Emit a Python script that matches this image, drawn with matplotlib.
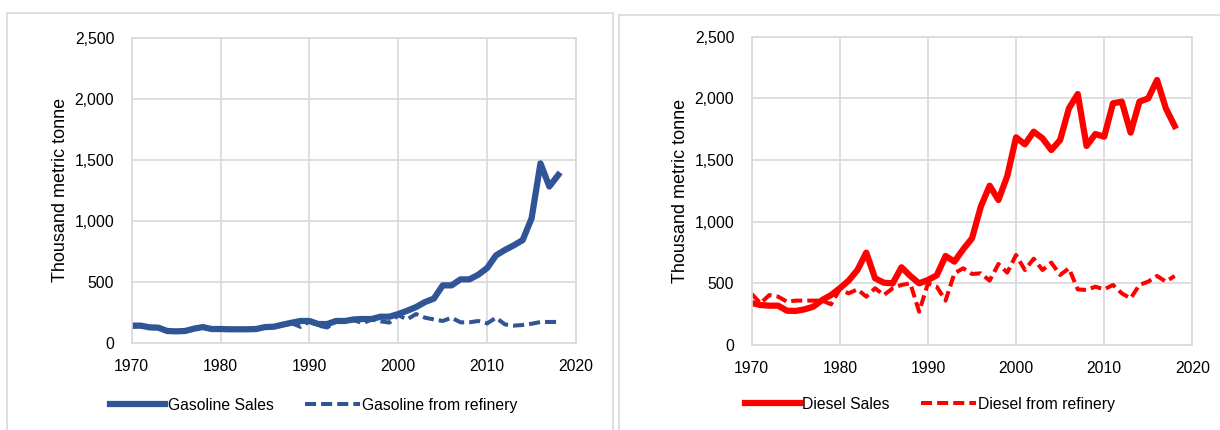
import matplotlib
matplotlib.use('Agg')
import matplotlib.pyplot as plt
from matplotlib.patches import Rectangle
import numpy as np

plt.rcParams['font.family'] = ['Liberation Sans', 'DejaVu Sans']

years_gas = list(range(1970, 2019))
gasoline_sales = [
    140, 140, 126, 123, 96, 93, 96, 115, 128, 112,
    112, 110, 110, 110, 112, 128, 131, 148, 164, 178,
    178, 153, 153, 178, 178, 191, 194, 194, 213, 213,
    235, 262, 292, 333, 361, 470, 470, 519, 519, 557,
    612, 716, 760, 798, 841, 1019, 1470, 1280, 1375,
]
gasoline_refinery = [
    132, 135, 122, 120, 93, 90, 93, 112, 125, 108,
    108, 107, 107, 107, 108, 124, 127, 144, 160, 130,
    175, 140, 125, 175, 170, 185, 160, 190, 175, 165,
    225, 191, 235, 205, 191, 178, 205, 167, 167, 178,
    158, 205, 150, 140, 145, 155, 170, 170, 170,
]

years_dsl = list(range(1970, 2019))
diesel_sales = [
    340, 324, 319, 319, 278, 276, 289, 311, 365, 405,
    460, 522, 608, 749, 541, 505, 500, 630, 560, 500,
    527, 565, 722, 676, 776, 865, 1122, 1292, 1176, 1370,
    1684, 1627, 1730, 1676, 1581, 1662, 1919, 2035, 1614, 1711,
    1689, 1960, 1973, 1722, 1973, 2000, 2149, 1919, 1776,
]
diesel_refinery = [
    414, 338, 405, 392, 351, 360, 360, 360, 360, 330,
    451, 419, 451, 392, 460, 405, 460, 487, 500, 270,
    500, 473, 360, 581, 622, 576, 581, 522, 657, 587,
    730, 608, 700, 608, 668, 568, 622, 451, 446, 473,
    451, 487, 419, 378, 487, 514, 560, 514, 560,
]

blue = '#2f5597'
red = '#ff0000'
grid_c = '#d9d9d9'

fig = plt.figure(figsize=(12.2, 4.3), dpi=100)

# panel frames
fig.patches.append(Rectangle((7 / 1220, -0.01), (613 - 7) / 1220, 1.01 - 13 / 430,
                             transform=fig.transFigure, fill=False,
                             edgecolor=grid_c, linewidth=1.2))
fig.patches.append(Rectangle((619 / 1220, -0.01), (1230 - 619) / 1220, 1.01 - 15 / 430,
                             transform=fig.transFigure, fill=False,
                             edgecolor=grid_c, linewidth=1.2))

ax1 = fig.add_axes([131.7 / 1220, (430 - 342.7) / 430, 444.3 / 1220, 305 / 430])
ax2 = fig.add_axes([751.7 / 1220, (430 - 345) / 430, 440.6 / 1220, 308.3 / 430])


def style(ax, label_x):
    ax.set_xlim(1970, 2020)
    ax.set_ylim(0, 2500)
    ax.set_xticks(np.arange(1970, 2021, 10))
    ax.set_yticks(np.arange(0, 2501, 500))
    ax.set_yticklabels(['{:,}'.format(v) for v in range(0, 2501, 500)])
    ax.grid(True, color=grid_c, linewidth=1.2)
    ax.set_axisbelow(True)
    for s in ax.spines.values():
        s.set_color(grid_c)
        s.set_linewidth(1.2)
    ax.tick_params(length=0, labelsize=11.3, colors='#000000')
    ax.tick_params(axis='x', pad=11.5)
    ax.tick_params(axis='y', pad=12.5)
    ax.set_ylabel('Thousand metric tonne', fontsize=13)
    ax.yaxis.set_label_coords(label_x, 0.5)


ax1.plot(years_gas, gasoline_sales, color=blue, linewidth=4.5,
         solid_joinstyle='round', label='Gasoline Sales')
ax1.plot(years_gas, gasoline_refinery, color=blue, linewidth=2.9,
         dashes=(2.75, 1.25), label='Gasoline from refinery')
style(ax1, -0.141)

ax2.plot(years_dsl, diesel_sales, color=red, linewidth=4.5,
         solid_joinstyle='round', label='Diesel Sales')
ax2.plot(years_dsl, diesel_refinery, color=red, linewidth=2.9,
         dashes=(2.75, 1.25), label='Diesel from refinery')
style(ax2, -0.142)

ax1.legend(loc='center', bbox_to_anchor=(0.41, -0.205), ncol=2, frameon=False,
           fontsize=11.3, handlelength=3.5, handletextpad=0.15,
           columnspacing=2.0)
ax2.legend(loc='center', bbox_to_anchor=(0.405, -0.192), ncol=2, frameon=False,
           fontsize=11.3, handlelength=3.5, handletextpad=0.15,
           columnspacing=2.0)

fig.savefig('out.png', dpi=100)
